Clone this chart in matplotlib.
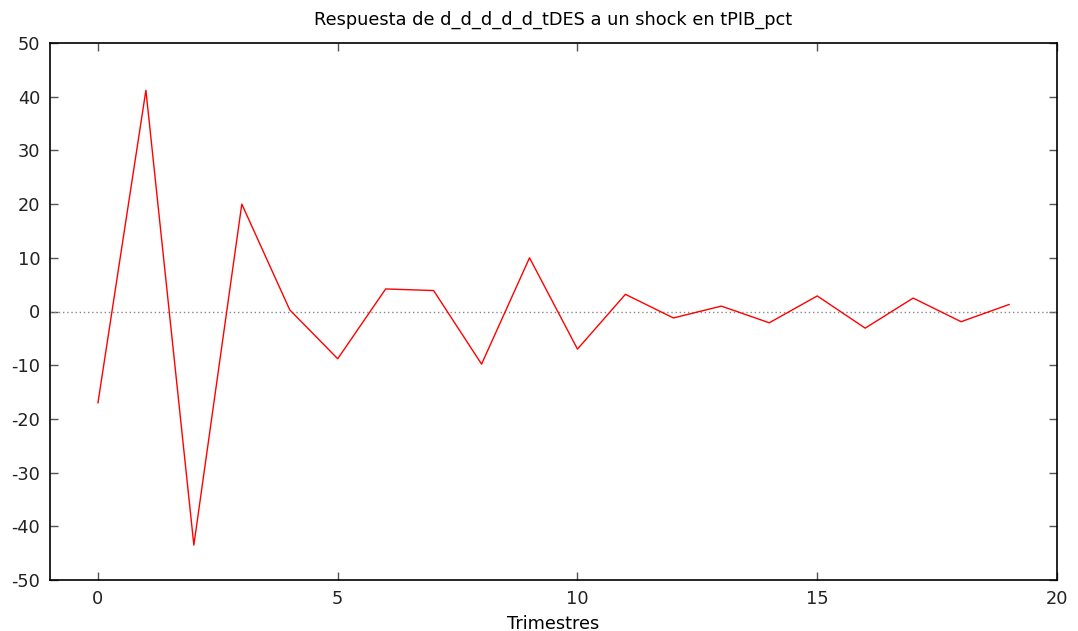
import matplotlib
matplotlib.use("Agg")
from matplotlib import pyplot as plt

trimestres = list(range(20))
respuesta = [-17.0, 41.2, -43.5, 20.0, 0.3, -8.8, 4.2, 3.9, -9.8, 10.0,
             -7.0, 3.2, -1.2, 1.0, -2.1, 2.9, -3.1, 2.5, -1.9, 1.3]

xticks = [0, 5, 10, 15, 20]
yticks = [-50, -40, -30, -20, -10, 0, 10, 20, 30, 40, 50]

plt.rcParams['font.family'] = ['DejaVu Sans']
plt.rcParams['axes.unicode_minus'] = False

fig = plt.figure(figsize=(10.78, 6.31), dpi=100, facecolor='w')
ax = fig.add_axes([50 / 1078, 1 - 580 / 631, 1007 / 1078, 537 / 631])

ax.axhline(0, color='#888888', linestyle=(0, (1, 2)), linewidth=1.0)
ax.plot(trimestres, respuesta, color='#ff0000', linewidth=1.0)

ax.set_xlim(-1, 20)
ax.set_ylim(-50, 50)
ax.set_xticks(xticks)
ax.set_yticks(yticks)
ax.tick_params(direction='in', top=True, right=True, length=6, width=1,
               color='#555555', labelcolor='#222222', labelsize=12.8, pad=7)
for s in ax.spines.values():
    s.set_linewidth(1.2)
    s.set_color('black')

ax.set_title('Respuesta de d_d_d_d_d_tDES a un shock en tPIB_pct', fontsize=12.8, pad=13)
ax.set_xlabel('Trimestres', fontsize=12.8, labelpad=5)

fig.savefig('out.png', dpi=100)
